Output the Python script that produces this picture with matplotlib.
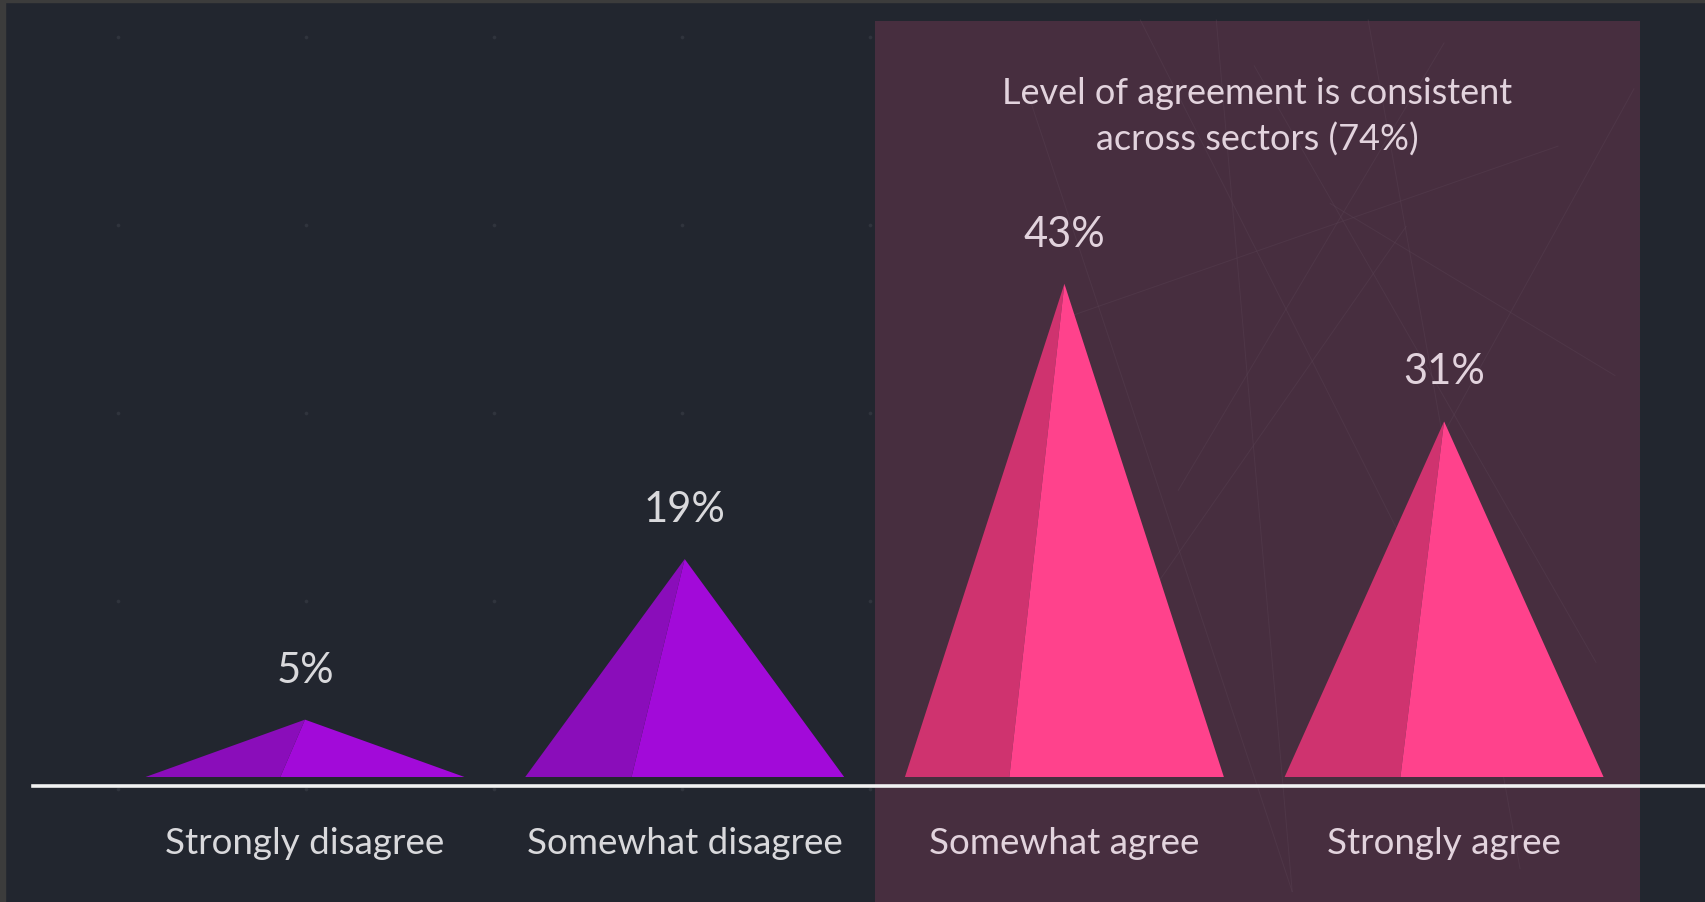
import numpy as np
import matplotlib
matplotlib.use("Agg")
import matplotlib.pyplot as plt
from matplotlib.patches import Polygon, Rectangle

# ---- data ----
categories = ["Strongly disagree", "Somewhat disagree", "Somewhat agree", "Strongly agree"]
values = [5, 19, 43, 31]
value_labels = ["5%", "19%", "43%", "31%"]
note = "Level of agreement is consistent\nacross sectors (74%)"

# ---- style ----
BG, FRAME, BOX = "#22262F", "#3c3c3c", "#472E3F"
PURPLE, PURPLE_DK = "#A20AD9", "#8A0DBA"
PINK, PINK_DK = "#FF428C", "#CF336F"
TXT, TXT_BOX = "#D9D9DC", "#E2D3DD"
FONT = ["Lato", "DejaVu Sans"]
half_w = 0.42
ridge_shift = [-0.065, -0.14, -0.145, -0.115]   # where the shaded face meets the base

W, H = 1706, 903
fig = plt.figure(figsize=(W / 100, H / 100), dpi=100, facecolor=BG)
ax = fig.add_axes([0, 0, 1, 1])
ax.set_facecolor(BG)

# map categories / percents to the picture
px_unit = 379.7      # px per category step
py_unit = 11.47      # px per percent
x0_px, y0_px = 305, H - 778
ax.set_xlim(-x0_px / px_unit, (W - x0_px) / px_unit)
ax.set_ylim(-y0_px / py_unit, (H - y0_px) / py_unit)
ax.axis("off")

# outer frame strips
fig.patches.append(Rectangle((0, 1 - 3 / H), 1, 3 / H, transform=fig.transFigure,
                             color=FRAME, zorder=0))
fig.patches.append(Rectangle((0, 0), 5 / W, 1, transform=fig.transFigure,
                             color=FRAME, zorder=0))

# faint dot grid in the background
gx = (118 + 188 * np.arange(9)) / W
gy = 1 - (38 + 188 * np.arange(5)) / H
GX, GY = np.meshgrid(gx, gy)
ax.scatter(GX.ravel(), GY.ravel(), s=7, color="#30343d", transform=ax.transAxes,
           zorder=0.5, linewidths=0)

# highlight box behind the "agree" side
ax.axvspan(1.5, 3.517, ymin=0, ymax=1 - 22 / H, color=BOX, zorder=1, linewidth=0)

# faint network lines inside the box
net = [((1.9, 60), (2.6, -10)), ((2.2, 66), (2.9, 20)), ((2.5, 62), (3.4, 10)),
       ((2.0, 40), (3.3, 55)), ((2.3, 25), (3.0, 64)), ((2.8, 66), (3.2, -8)),
       ((2.1, 10), (2.9, 48)), ((3.0, 30), (3.5, 60)), ((2.4, 66), (2.6, -10)),
       ((2.7, 50), (3.45, 35))]
for (xa, ya), (xb, yb) in net:
    ax.plot([xa, xb], [ya, yb], color="#5a4354", lw=0.7, alpha=0.4, zorder=1.2)

# pyramids
for i, (v, lab, cat) in enumerate(zip(values, value_labels, categories)):
    agree = i >= 2
    light, dark = (PINK, PINK_DK) if agree else (PURPLE, PURPLE_DK)
    r = i + ridge_shift[i]
    ax.add_patch(Polygon([(i - half_w, 0), (i, v), (r, 0)], closed=True,
                         facecolor=dark, edgecolor="none", zorder=3))
    ax.add_patch(Polygon([(r, 0), (i, v), (i + half_w, 0)], closed=True,
                         facecolor=light, edgecolor="none", zorder=3))
    ax.annotate(lab, (i, v), xytext=(0, 36), textcoords="offset points",
                ha="center", va="center", fontsize=30, color=TXT_BOX if agree else TXT,
                family=FONT, zorder=4)
    ax.annotate(cat, (i, 0), xytext=(0, -47.5), textcoords="offset points",
                ha="center", va="center", fontsize=26.5, color=TXT_BOX if agree else TXT,
                family=FONT, zorder=4)

# baseline
ax.axhline(-0.75, xmin=33 / W, xmax=1, color="#F2F2F2", lw=2.6, zorder=5)

# annotation in the box
ax.text((1.5 + 3.517) / 2, 1 - 117 / H, note, transform=ax.get_xaxis_transform(),
        ha="center", va="center", fontsize=26, color=TXT_BOX, family=FONT,
        linespacing=1.45, zorder=4)

fig.savefig("out.png", dpi=100, facecolor=BG)
